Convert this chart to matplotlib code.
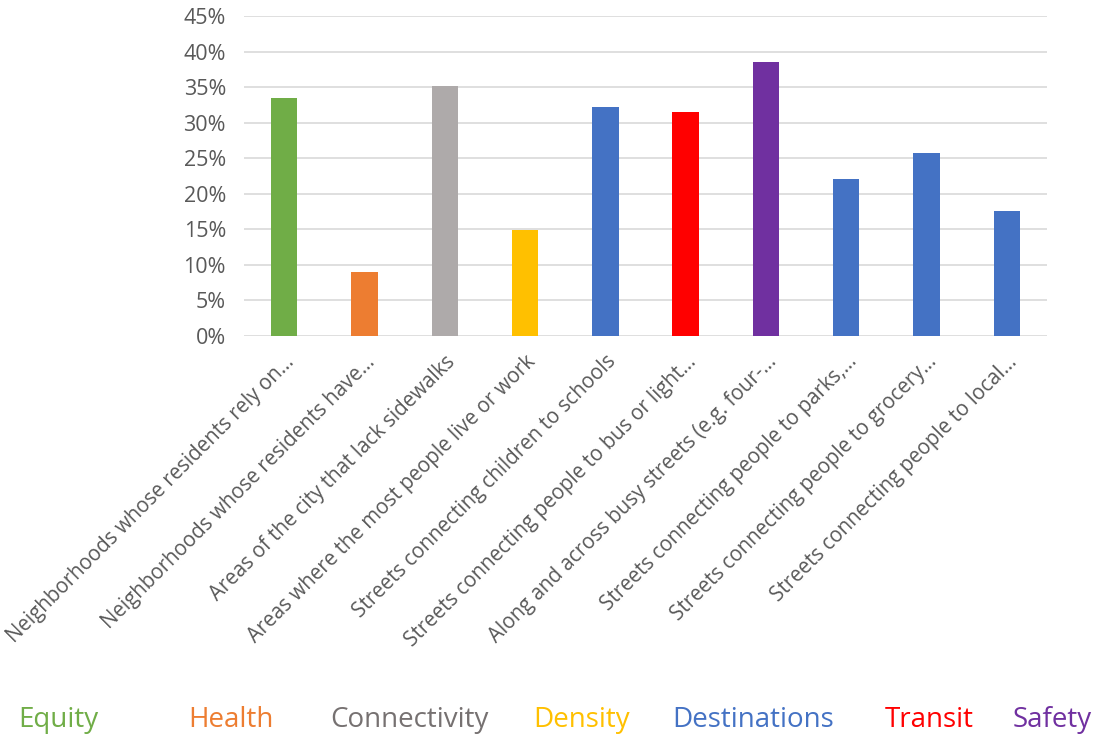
import matplotlib.pyplot as plt
import matplotlib.transforms as mtransforms
import numpy as np

# Share of respondents per priority area
labels = [
    'Neighborhoods whose residents rely on…',
    'Neighborhoods whose residents have…',
    'Areas of the city that lack sidewalks',
    'Areas where the most people live or work',
    'Streets connecting children to schools',
    'Streets connecting people to bus or light…',
    'Along and across busy streets (e.g. four-…',
    'Streets connecting people to parks,…',
    'Streets connecting people to grocery…',
    'Streets connecting people to local…',
]
values = [33.4, 9.0, 35.2, 14.9, 32.2, 31.45, 38.6, 22.1, 25.8, 17.6]
bar_colors = ['#70AD47', '#ED7D31', '#AEAAAA', '#FFC000', '#4472C4',
              '#FF0000', '#7030A0', '#4472C4', '#4472C4', '#4472C4']

legend_names = ['Equity', 'Health', 'Connectivity', 'Density', 'Destinations', 'Transit', 'Safety']
legend_colors = ['#70AD47', '#ED7D31', '#767171', '#FFC000', '#4472C4', '#FF0000', '#7030A0']
legend_x = [18, 188, 330, 533, 672, 885, 1013]

plt.rcParams['font.family'] = ['Open Sans', 'DejaVu Sans']

fig = plt.figure(figsize=(11.02, 7.36), dpi=100)
ax = fig.add_axes([244 / 1102, 1 - 336 / 736, (1047 - 244) / 1102, 320 / 736])

x = np.arange(len(values))
ax.bar(x, values, width=0.33, color=bar_colors, zorder=3)

ax.set_xlim(-0.5, len(values) - 0.5)
ax.set_ylim(0, 45)
ax.set_yticks(np.arange(0, 46, 5))
ax.set_yticklabels([f'{v}%' for v in range(0, 46, 5)], fontsize=15.5, color='#595959')
ax.yaxis.grid(True, color='#D9D9D9', linewidth=1.2, zorder=0)
ax.tick_params(length=0)
ax.tick_params(axis='y', pad=13)
for s in ax.spines.values():
    s.set_visible(False)

ax.set_xticks(x)
ax.set_xticklabels(labels, rotation=45, ha='right', va='top', rotation_mode='anchor',
                   fontsize=14.8, color='#595959')
offset = mtransforms.ScaledTranslation(33 / 100, 0, fig.dpi_scale_trans)
for t in ax.get_xticklabels():
    t.set_transform(t.get_transform() + offset)
ax.tick_params(axis='x', pad=11)

for name, col, lx in zip(legend_names, legend_colors, legend_x):
    fig.text(lx / 1102, 1 - 720 / 736, name, color=col, fontsize=20,
             ha='left', va='center')

fig.savefig('out.png', dpi=100)
